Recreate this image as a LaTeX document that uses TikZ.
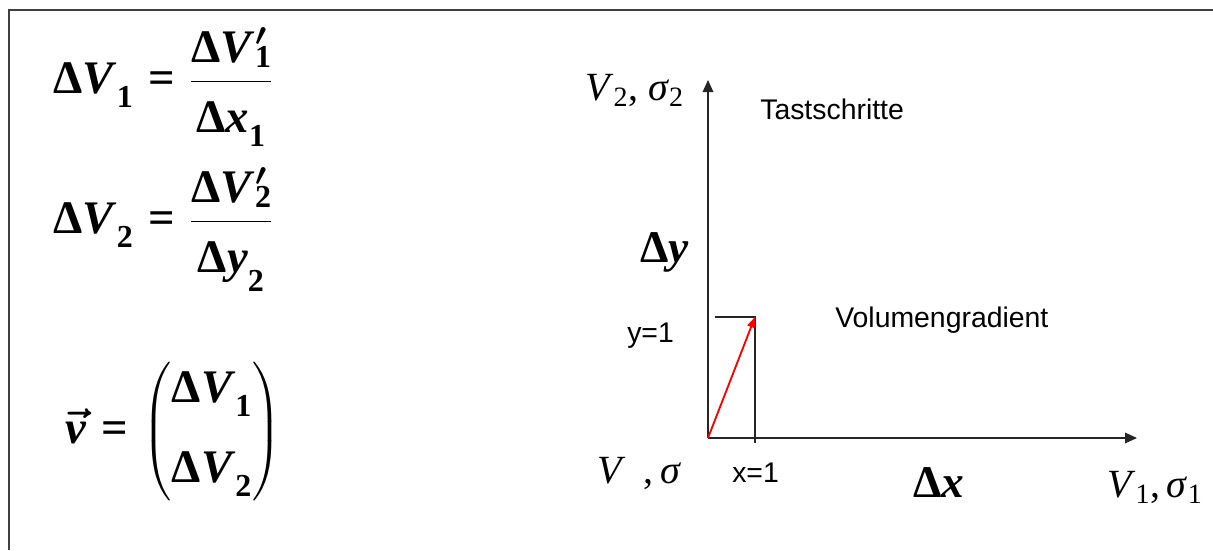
\RequirePackage{fix-cm}
\documentclass[tikz,border=0pt]{standalone}
\usepackage{amsmath}
\usepackage{fontspec}
\setmainfont{Liberation Serif}
\setsansfont{Liberation Sans}
\usetikzlibrary{arrows.meta}

\DeclareMathSizes{35}{35}{24}{18}
\newcommand{\lsub}[1]{_{\text{\raisebox{-0.5ex}{#1}}}}
\newcommand{\dV}[1]{\text{Δ\textit{V}}\lsub{#1}}
\newcommand{\dVp}[1]{\text{Δ\textit{V}\rlap{$^{\prime}$}\raisebox{-0.12em}{\fontsize{24}{24}\selectfont #1}}}
\newcommand{\eqs}{\mathrel{\text{=}}}
\newcommand{\dstrut}{\rule{0pt}{1.0em}}
\newcommand{\numlow}[1]{\smash[b]{\raisebox{-3pt}{$#1$}}}

\begin{document}
\begin{tikzpicture}[x=0.75pt, y=-0.75pt,
    eqn/.style={anchor=base west, inner sep=0pt, font=\fontsize{35}{42}\selectfont\bfseries\boldmath},
    axlbl/.style={anchor=base west, inner sep=0pt, font=\fontsize{30}{36}\selectfont},
    dlbl/.style={anchor=base west, inner sep=0pt, font=\fontsize{34}{40}\selectfont\bfseries},
    txt/.style={anchor=base west, inner sep=0pt, font=\fontsize{21.3}{25}\selectfont\sffamily},
    axarr/.style={-{Triangle[length=9pt, width=8pt]}, line width=0.9pt, black!85},
    vecarr/.style={-{Triangle[length=8pt, width=6pt]}, line width=1.4pt, red},
    helper/.style={line width=0.8pt, black!85},
    frame/.style={line width=1.5pt, black!75}
]
\useasboundingbox (0,0) rectangle (1213,550);

\coordinate (fbl) at (9,550);
\coordinate (ftl) at (9,10);
\coordinate (ftr) at (1213,10);
\draw[frame] (fbl) -- (ftl) -- (ftr);

\node[eqn] (eqone) at (53,93) {$\dV{1} \eqs \dfrac{\numlow{\dVp{1}}}{\dstrut\text{Δ\textit{x}}\lsub{1}}$};
\node[eqn] (eqtwo) at (53,233) {$\dV{2} \eqs \dfrac{\numlow{\dVp{2}}}{\dstrut\text{Δ\textit{y}}\lsub{2}}$};
\node[eqn] (vvec) at (65,443) {$\vec{\text{\textit{v}}} \eqs \begin{pmatrix}\dV{1}\\[18pt]\dV{2}\end{pmatrix}$};

\coordinate (o) at (708,438);
\coordinate (ytip) at (708,80);
\coordinate (xtip) at (1137,438);
\coordinate (p) at (755,317);
\coordinate (pfoot) at (755,443);
\coordinate (pleft) at (715,317);

\draw[axarr] (o) -- (ytip);
\draw[axarr] (o) -- (xtip);
\draw[helper] (pleft) -- (p) -- (pfoot);
\draw[vecarr] (o) -- (p);

\node[axlbl] (ylab) at (585,100) {\textit{V}\textsubscript{2}, \textit{σ}\textsubscript{2}};
\node[axlbl] (olab) at (597,483) {\textit{V}\hspace{0.45em},\,\textit{σ}};
\node[axlbl] (xlab) at (1107,497) {\textit{V}\textsubscript{1},\,\textit{σ}\textsubscript{1}};
\node[dlbl] (dy) at (640,262) {Δ\textit{y}};
\node[dlbl] (dx) at (913,497) {Δ\textit{x}};
\node[txt] (tast) at (760,119) {Tastschritte};
\node[txt] (grad) at (835,327) {Volumengradient};
\node[txt] (yone) at (627,342) {y=1};
\node[txt] (xone) at (732,482) {x=1};
\end{tikzpicture}
\end{document}
